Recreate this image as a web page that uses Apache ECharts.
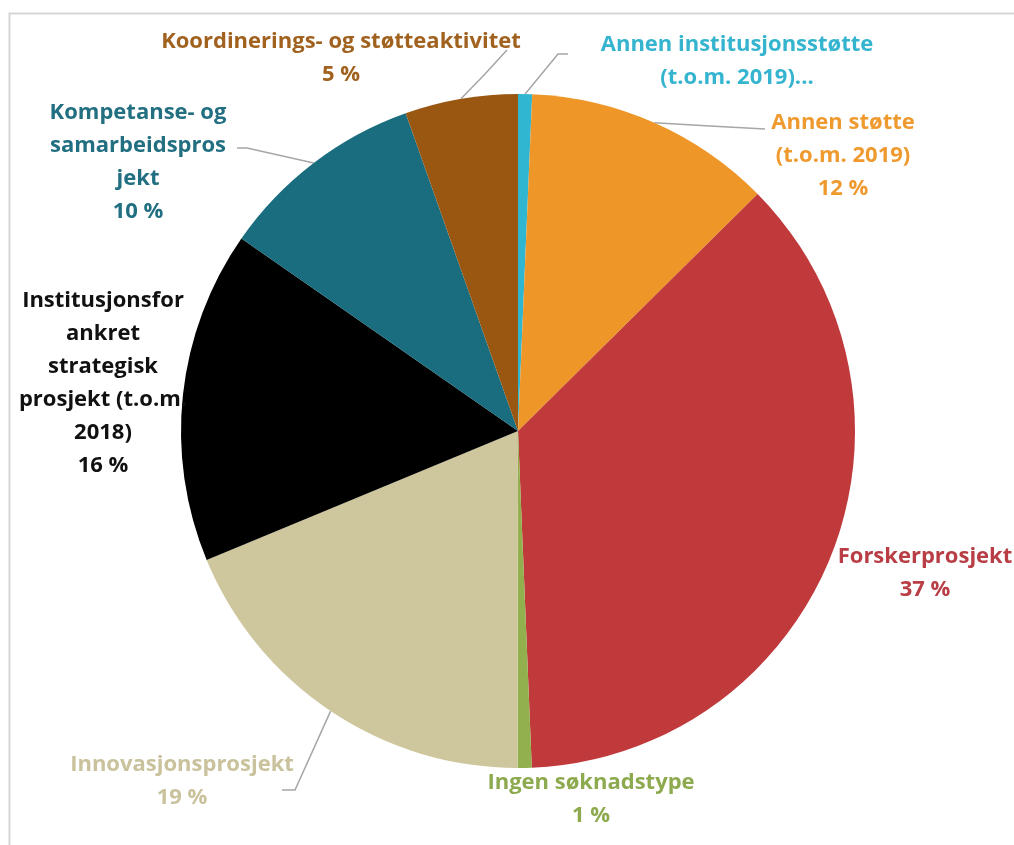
<!DOCTYPE html>
<html>
<head>
<meta charset="utf-8">
<script src="https://cdn.jsdelivr.net/npm/echarts@6/dist/echarts.min.js"></script>
<style>
html,body{margin:0;padding:0;background:#fff;}
#chart{width:1014px;height:845px;}
</style>
</head>
<body>
<div id="chart"></div>
<script>
// ---- data ----
const categories = [
  "Annen institusjonsstøtte\n(t.o.m. 2019)...",
  "Annen støtte\n(t.o.m. 2019)",
  "Forskerprosjekt",
  "Ingen søknadstype",
  "Innovasjonsprosjekt",
  "Institusjonsfor\nankret\nstrategisk\nprosjekt (t.o.m.\n2018)",
  "Kompetanse- og\nsamarbeidspros\njekt",
  "Koordinerings- og støtteaktivitet"
];
const values = [0.67, 11.9, 36.7, 0.67, 18.7, 15.9, 9.9, 5.4];
const showPercent = [false, true, true, true, true, true, true, true];
const sliceColors = ["#31B6D1", "#EF9628", "#C0393B", "#92B04E", "#CEC69C", "#000000", "#1A6D7E", "#995712"];
const labelColors = ["#35B4CF", "#EE9A2F", "#B83D45", "#8DAA4E", "#C9C29C", "#111111", "#216F80", "#A0621E"];

// ---- label layout (positions only) ----
const labelPos = [
  {x: 737, y: 61,  line: [[558, 54], [568, 54]]},
  {x: 843, y: 156, line: [[710, 126], [765, 129]]},
  {x: 925, y: 573, line: null},
  {x: 591, y: 799, line: null},
  {x: 182, y: 781, line: [[295, 790], [282, 790]]},
  {x: 103, y: 383, line: null},
  {x: 138, y: 162, line: [[247, 148], [237, 148]]},
  {x: 341, y: 58,  line: [[485, 74], [507, 50]]}
];

const chart = echarts.init(document.getElementById('chart'), null, {renderer: 'canvas'});

const seriesData = categories.map((name, i) => ({
  name: name,
  value: values[i],
  itemStyle: {color: sliceColors[i]},
  label: {color: labelColors[i]},
  labelLine: {show: labelPos[i].line !== null}
}));

chart.setOption({
  backgroundColor: '#ffffff',
  animation: false,
  graphic: [{
    type: 'polyline',
    shape: {points: [[9.5, 860], [9.5, 13.5], [1030, 13.5]]},
    style: {stroke: '#d6d6d6', lineWidth: 2, fill: null},
    silent: true
  }],
  series: [{
    type: 'pie',
    center: [518, 431],
    radius: [0, 337],
    startAngle: 90,
    clockwise: true,
    avoidLabelOverlap: false,
    minAngle: 0,
    data: seriesData,
    itemStyle: {borderWidth: 0},
    label: {
      show: true,
      position: 'outside',
      fontFamily: 'Open Sans',
      fontWeight: 'bold',
      fontSize: 22,
      lineHeight: 33,
      align: 'center',
      formatter: p => showPercent[p.dataIndex] ? (p.name + '\n' + Math.round(p.value) + ' %') : p.name
    },
    labelLine: {
      show: true,
      length: 20,
      length2: 10,
      smooth: false,
      lineStyle: {color: '#A6A6A6', width: 1.5}
    },
    labelLayout: function (params) {
      const L = labelPos[params.dataIndex];
      const out = {x: L.x, y: L.y, align: 'center', verticalAlign: 'middle'};
      if (L.line && params.labelLinePoints) {
        out.labelLinePoints = [params.labelLinePoints[0], L.line[0], L.line[1]];
      }
      return out;
    }
  }]
});
</script>
</body>
</html>
